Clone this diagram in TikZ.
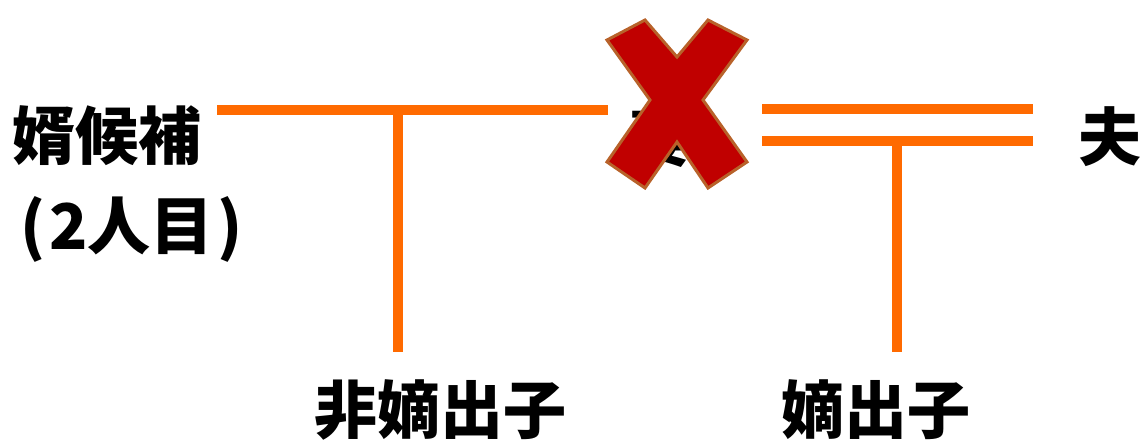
\documentclass[tikz,border=0pt]{standalone}
\usepackage{fontspec}
\newfontfamily\cjk{Noto Sans CJK JP}
\definecolor{lineorange}{HTML}{FF6A00}
\definecolor{xred}{HTML}{C00000}
\definecolor{xedge}{HTML}{B8622A}
\begin{document}
\begin{tikzpicture}[x=1pt,y=-1pt,
  lbl/.style={font=\cjk\bfseries\fontsize{63}{65}\selectfont, inner sep=0pt, text=black},
  rel/.style={draw=lineorange, line width=10pt}]
\useasboundingbox (0,0) rectangle (1145,444);
\node[lbl, anchor=west] (muko) at (12,136) {婿候補};
\node[lbl, anchor=west] (muko2) at (20,229) {(\hspace{4pt}2人目\hspace{4pt})};
\node[lbl] (tsuma) at (660,138) {妻};
\node[lbl] (otto) at (1110,137) {夫};
\node[lbl] (hichaku) at (440,410) {非嫡出子};
\node[lbl] (chaku) at (876,410) {嫡出子};
\coordinate (a1) at (217,110);
\coordinate (a2) at (608,110);
\coordinate (av) at (398,110);
\coordinate (avb) at (398,352);
\coordinate (b1) at (762,109);
\coordinate (b2) at (1033,109);
\coordinate (c1) at (762,141);
\coordinate (c2) at (1033,141);
\coordinate (bv) at (897,141);
\coordinate (bvb) at (897,352);
\draw[rel] (a1) -- (a2);
\draw[rel] (av) -- (avb);
\draw[rel] (b1) -- (b2);
\draw[rel] (c1) -- (c2);
\draw[rel] (bv) -- (bvb);
\draw[fill=xred, draw=xedge, line width=3pt, line join=miter]
  (607,40) -- (645,20) -- (677,57) -- (708,20) -- (747,40) -- (703,100)
  -- (747,162) -- (708,188) -- (677,142) -- (645,188) -- (607,162) -- (650,100) -- cycle;
\end{tikzpicture}
\end{document}
